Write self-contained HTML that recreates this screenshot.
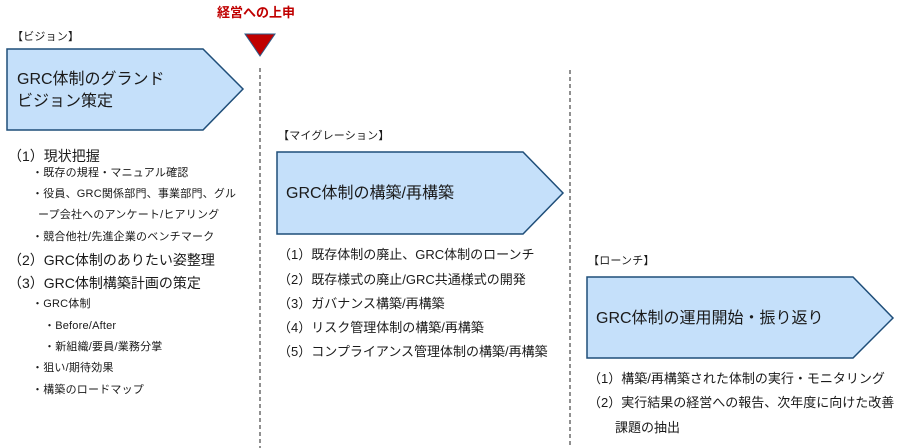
<!DOCTYPE html>
<html><head><meta charset="utf-8"><style>
body{margin:0;width:907px;height:448px;background:#fff;position:relative;overflow:hidden;font-family:"Liberation Sans","Noto Sans CJK JP",sans-serif;color:#1a1a1a}
.t{position:absolute;white-space:nowrap;line-height:1}
.s{font-size:11px;letter-spacing:0.2px}.m{font-size:13px}.l{font-size:14px}.h{font-size:16px}
</style></head><body>
<svg width="907" height="448" style="position:absolute;left:0;top:0">
<polygon points="7,49 203,49 243,89 203,130 7,130" fill="#c5e0fa" stroke="#1f4e79" stroke-width="1.5"/>
<polygon points="277,152 523,152 563,193 523,234 277,234" fill="#c5e0fa" stroke="#1f4e79" stroke-width="1.5"/>
<polygon points="587,277 853,277 893,318 853,358 587,358" fill="#c5e0fa" stroke="#1f4e79" stroke-width="1.5"/>
<polygon points="245,34 275,34 260,56" fill="#c00000" stroke="#2e5d8a" stroke-width="1"/>
<line x1="260" y1="68" x2="260" y2="448" stroke="#555" stroke-width="1.3" stroke-dasharray="4,3"/>
<line x1="570" y1="70" x2="570" y2="448" stroke="#555" stroke-width="1.3" stroke-dasharray="4,3"/>
</svg>
<div class="t" style="left:217px;top:6px;font-size:13px;font-weight:bold;color:#c00000">経営への上申</div>
<div class="t s" style="left:12px;top:32px">【ビジョン】</div>
<div class="t h" style="left:17px;top:72px">GRC体制のグランド</div>
<div class="t h" style="left:17px;top:94px">ビジョン策定</div>
<div class="t l" style="left:8px;top:149px">（1）現状把握</div>
<div class="t s" style="left:32px;top:168px">・既存の規程・マニュアル確認</div>
<div class="t s" style="left:32px;top:189px">・役員、GRC関係部門、事業部門、グル</div>
<div class="t s" style="left:38px;top:210px">ープ会社へのアンケート/ヒアリング</div>
<div class="t s" style="left:32px;top:232px">・競合他社/先進企業のベンチマーク</div>
<div class="t l" style="left:8px;top:253px">（2）GRC体制のありたい姿整理</div>
<div class="t l" style="left:8px;top:276px">（3）GRC体制構築計画の策定</div>
<div class="t s" style="left:32px;top:299px">・GRC体制</div>
<div class="t s" style="left:44px;top:321px">・Before/After</div>
<div class="t s" style="left:44px;top:342px">・新組織/要員/業務分掌</div>
<div class="t s" style="left:32px;top:363px">・狙い/期待効果</div>
<div class="t s" style="left:32px;top:385px">・構築のロードマップ</div>
<div class="t s" style="left:278px;top:131px">【マイグレーション】</div>
<div class="t h" style="left:286px;top:186px">GRC体制の構築/再構築</div>
<div class="t m" style="left:278px;top:248px">（1）既存体制の廃止、GRC体制のローンチ</div>
<div class="t m" style="left:278px;top:273px">（2）既存様式の廃止/GRC共通様式の開発</div>
<div class="t m" style="left:278px;top:297px">（3）ガバナンス構築/再構築</div>
<div class="t m" style="left:278px;top:321px">（4）リスク管理体制の構築/再構築</div>
<div class="t m" style="left:278px;top:345px">（5）コンプライアンス管理体制の構築/再構築</div>
<div class="t s" style="left:588px;top:256px">【ローンチ】</div>
<div class="t h" style="left:596px;top:311px">GRC体制の運用開始・振り返り</div>
<div class="t m" style="left:588px;top:372px">（1）構築/再構築された体制の実行・モニタリング</div>
<div class="t m" style="left:588px;top:396px">（2）実行結果の経営への報告、次年度に向けた改善</div>
<div class="t m" style="left:615px;top:421px">課題の抽出</div>
</body></html>
